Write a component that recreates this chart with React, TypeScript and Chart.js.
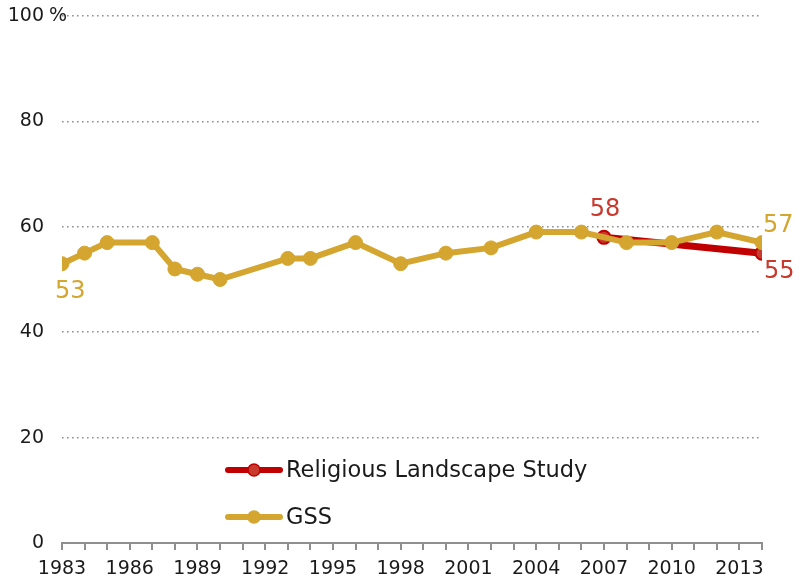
import React, { useEffect, useRef } from "react";
import { Chart, registerables } from "chart.js";

Chart.register(...registerables);

const gssYears = [1983, 1984, 1985, 1987, 1988, 1989, 1990, 1993, 1994, 1996, 1998, 2000, 2002, 2004, 2006, 2008, 2010, 2012, 2014];
const gssValues = [53, 55, 57, 57, 52, 51, 50, 54, 54, 57, 53, 55, 56, 59, 59, 57, 57, 59, 57];
const rlsYears = [2007, 2014];
const rlsValues = [58, 55];
const yTicks = [0, 20, 40, 60, 80, 100];
const seriesNames = ["Religious Landscape Study", "GSS"];

const GOLD = "#D4A52F";
const RED = "#C00000";
const RED_POINT = "#C8392E";
const RED_LABEL = "#C8392E";
const FONT = "'DejaVu Sans', sans-serif";

// which points get value labels: [datasetIndex, pointIndex, color, align, dx, dy]
const labelSpecs: [number, number, string, CanvasTextAlign, number, number][] = [
  [1, 0, GOLD, "left", -7, 28],
  [1, 18, GOLD, "left", 1, -17],
  [0, 0, RED_LABEL, "center", 1, -28],
  [0, 1, RED_LABEL, "left", 2, 19],
];

const overlayPlugin = {
  id: "overlay",
  afterDraw(chart: any) {
    const ctx = chart.ctx;
    const y = chart.scales.y;
    ctx.save();
    // y tick labels
    ctx.fillStyle = "#1a1a1a";
    ctx.font = `19px ${FONT}`;
    ctx.textBaseline = "middle";
    yTicks.forEach((v) => {
      const py = y.getPixelForValue(v);
      ctx.textAlign = "right";
      ctx.fillText(String(v), 44, py);
      if (v === 100) {
        ctx.textAlign = "left";
        ctx.fillText(" %", 43, py);
      }
    });
    // value labels
    ctx.font = `24px ${FONT}`;
    labelSpecs.forEach(([ds, idx, color, align, dx, dy]) => {
      const meta = chart.getDatasetMeta(ds);
      const pt = meta.data[idx];
      const val = chart.data.datasets[ds].data[idx].y;
      ctx.fillStyle = color;
      ctx.textAlign = align;
      ctx.textBaseline = "middle";
      ctx.fillText(String(val), pt.x + dx, pt.y + dy);
    });
    // legend
    const items = [
      { name: seriesNames[0], line: RED, fill: RED_POINT, border: RED, y: 470 },
      { name: seriesNames[1], line: GOLD, fill: GOLD, border: GOLD, y: 517 },
    ];
    items.forEach((it) => {
      ctx.strokeStyle = it.line;
      ctx.lineWidth = 6;
      ctx.lineCap = "round";
      ctx.beginPath();
      ctx.moveTo(228, it.y);
      ctx.lineTo(280, it.y);
      ctx.stroke();
      ctx.beginPath();
      ctx.arc(254, it.y, 6, 0, Math.PI * 2);
      ctx.fillStyle = it.fill;
      ctx.fill();
      ctx.lineWidth = 1.5;
      ctx.strokeStyle = it.border;
      ctx.stroke();
      ctx.fillStyle = "#1a1a1a";
      ctx.font = `22.5px ${FONT}`;
      ctx.textAlign = "left";
      ctx.textBaseline = "middle";
      ctx.fillText(it.name, 286, it.y + 1);
    });
    ctx.restore();
  },
};

export default function App() {
  const ref = useRef<HTMLCanvasElement>(null);
  useEffect(() => {
    if (!ref.current) return;
    const chart = new Chart(ref.current, {
      type: "line",
      data: {
        datasets: [
          {
            label: seriesNames[0],
            data: rlsYears.map((x, i) => ({ x, y: rlsValues[i] })),
            borderColor: RED,
            borderWidth: 7,
            pointRadius: 6.5,
            pointBackgroundColor: RED_POINT,
            pointBorderColor: RED,
            pointBorderWidth: 2,
            order: 1,
          },
          {
            label: seriesNames[1],
            data: gssYears.map((x, i) => ({ x, y: gssValues[i] })),
            borderColor: GOLD,
            borderWidth: 6,
            pointRadius: 7,
            pointBackgroundColor: GOLD,
            pointBorderColor: GOLD,
            pointBorderWidth: 1,
            order: 0,
          },
        ],
      },
      options: {
        responsive: false,
        animation: false,
        layout: { padding: { top: 16, right: 41, left: 0, bottom: 0 } },
        plugins: { legend: { display: false }, tooltip: { enabled: false } },
        scales: {
          x: {
            type: "linear",
            min: 1983,
            max: 2014,
            afterFit: (s: any) => {
              s.height = 37;
            },
            ticks: {
              stepSize: 1,
              autoSkip: false,
              maxRotation: 0,
              padding: 8,
              color: "#1a1a1a",
              font: { family: FONT, size: 19 },
              callback: (v: any) => ((Number(v) - 1983) % 3 === 0 ? String(v) : ""),
            },
            grid: {
              drawOnChartArea: false,
              drawTicks: true,
              tickLength: 7,
              color: "#8f8f8f",
              lineWidth: 2,
            },
            border: { display: true, color: "#8f8f8f", width: 2 },
          },
          y: {
            min: 0,
            max: 100,
            afterFit: (s: any) => {
              s.width = 62;
            },
            ticks: { stepSize: 20, display: false },
            grid: {
              drawTicks: false,
              color: (c: any) => (c.tick && c.tick.value === 0 ? "rgba(0,0,0,0)" : "#8f8f8f"),
              lineWidth: 1.6,
            },
            border: { display: false, dash: [1.6, 3.4] },
          },
        },
      },
      plugins: [overlayPlugin],
    });
    return () => chart.destroy();
  }, []);
  return (
    <div style={{ position: "fixed", left: 0, top: 0, width: 803, height: 580, background: "#fff" }}>
      <canvas ref={ref} width={803} height={580} />
    </div>
  );
}
